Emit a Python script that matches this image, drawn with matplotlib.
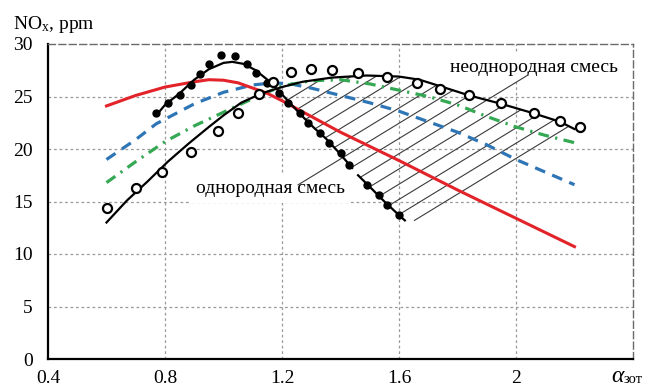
import numpy as np
import matplotlib
matplotlib.use("Agg")
import matplotlib.pyplot as plt

plt.rcParams['font.family'] = ['Liberation Serif', 'DejaVu Serif']
plt.rcParams['mathtext.default'] = 'regular'
plt.rcParams['font.size'] = 14

# ---------------- data ----------------
x_ticks = [0.4, 0.8, 1.2, 1.6, 2.0, 2.4]
x_tick_labels = ['0.4', '0.8', '1.2', '1.6', '2', '']
y_ticks = [0, 5, 10, 15, 20, 25, 30]

red_x = [0.6, 0.7, 0.8, 0.9, 0.95, 1.0, 1.05, 1.1, 1.15, 1.2, 1.3, 1.4, 1.6, 1.8, 2.0, 2.2]
red_y = [24.1, 25.1, 25.9, 26.4, 26.6, 26.55, 26.3, 25.8, 25.3, 24.6, 23.1, 21.6, 18.9, 16.1, 13.4, 10.7]

blue_x = [0.6, 0.7, 0.77, 0.9, 1.0, 1.1, 1.17, 1.23, 1.3, 1.4, 1.5, 1.6, 1.7, 1.8, 1.9, 2.0, 2.1, 2.2]
blue_y = [19.0, 20.9, 22.4, 24.3, 25.4, 26.1, 26.3, 26.2, 25.8, 25.1, 24.4, 23.6, 22.6, 21.6, 20.4, 19.0, 17.8, 16.6]

green_x = [0.6, 0.7, 0.8, 0.9, 1.0, 1.1, 1.2, 1.3, 1.4, 1.5, 1.6, 1.7, 1.8, 1.9, 2.0, 2.1, 2.2]
green_y = [16.8, 18.8, 20.7, 22.2, 23.5, 24.8, 26.0, 26.5, 26.6, 26.2, 25.6, 25.0, 24.2, 23.1, 22.1, 21.3, 20.6]

# homogeneous mixture fit curve (break in the line after index homo_gap)
homo_x = [0.77, 0.80, 0.85, 0.90, 0.95, 1.00, 1.03, 1.07, 1.11, 1.15, 1.19, 1.23, 1.27, 1.31,
          1.35, 1.39, 1.44, 1.46, 1.50, 1.55, 1.60, 1.62]
homo_y = [23.2, 24.2, 25.3, 26.6, 27.6, 28.2, 28.3, 28.1, 27.5, 26.6, 25.5, 24.3, 23.1, 22.0,
          21.0, 19.8, 18.2, 17.5, 16.4, 15.0, 13.7, 13.2]
homo_gap = 17

homo_pts_x = [0.77, 0.81, 0.85, 0.89, 0.92, 0.95, 0.99, 1.04, 1.08, 1.11, 1.15, 1.19, 1.22, 1.26,
              1.29, 1.33, 1.36, 1.40, 1.43, 1.49, 1.53, 1.56, 1.60]
homo_pts_y = [23.4, 24.4, 25.1, 26.1, 27.1, 28.1, 29.0, 28.9, 28.1, 27.2, 26.3, 25.3, 24.4, 23.4,
              22.5, 21.5, 20.6, 19.6, 18.5, 16.6, 15.6, 14.7, 13.7]

# heterogeneous mixture fit curve
het_x = [0.60, 0.67, 0.74, 0.81, 0.88, 0.95, 1.00, 1.06, 1.13, 1.20, 1.27, 1.37, 1.49, 1.60,
         1.67, 1.75, 1.84, 1.95, 2.06, 2.15, 2.20]
het_y = [13.0, 15.1, 16.9, 18.8, 20.5, 22.1, 23.2, 24.4, 25.3, 25.9, 26.4, 26.8, 27.0, 26.9,
         26.6, 25.9, 25.1, 24.3, 23.4, 22.6, 21.9]

het_pts_x = [0.60, 0.70, 0.79, 0.89, 0.98, 1.05, 1.12, 1.17, 1.23, 1.30, 1.37, 1.46, 1.56, 1.66,
             1.74, 1.84, 1.95, 2.06, 2.15, 2.22]
het_pts_y = [14.4, 16.3, 17.8, 19.7, 21.7, 23.4, 25.2, 26.4, 27.3, 27.6, 27.5, 27.2, 26.9, 26.3,
             25.7, 25.1, 24.4, 23.4, 22.7, 22.1]

# hatching between the two curves: value of each hatch line at x = 2.0
hatch_slope = 17.0
hatch_c = [19.1, 20.55, 22.0, 23.45, 24.9, 26.35, 27.8, 29.25, 30.7, 32.15, 33.6, 35.05, 36.5, 37.95]
hatch_floor = 13.2
leader_top_idx, leader_top_x = 5, 2.04      # leader to "неоднородная смесь"
leader_low_idx, leader_low_x = 7, 1.255     # leader to "однородная смесь"

label_homo = 'однородная смесь'
label_het = 'неоднородная смесь'

# ---------------- figure ----------------
fig = plt.figure(figsize=(6.48, 3.87), dpi=100)
ax = fig.add_axes([48/648, 28/387, 585/648, 315/387])
ax.set_xlim(x_ticks[0], x_ticks[-1])
ax.set_ylim(y_ticks[0], y_ticks[-1])
ax.set_xticks(x_ticks)
ax.set_xticklabels(x_tick_labels)
ax.set_yticks(y_ticks)
ax.tick_params(axis='x', length=0, pad=8, labelsize=14)
ax.tick_params(axis='y', length=0, pad=11, labelsize=14)

grid_kw = dict(color='#9a9a9a', lw=0.9, ls=(0, (2.2, 2.2)), zorder=1)
for xv in x_ticks[1:-1]:
    ax.axvline(xv, **grid_kw)
for yv in y_ticks[1:-1]:
    ax.axhline(yv, **grid_kw)

for s in ['top', 'right']:
    ax.spines[s].set_linestyle((0, (5, 2.5)))
    ax.spines[s].set_color('#6a6a6a')
    ax.spines[s].set_linewidth(1.0)
for s in ['left', 'bottom']:
    ax.spines[s].set_color('black')
    ax.spines[s].set_linewidth(1.6)

# hatching
hx = np.asarray(homo_x)
hy = np.asarray(homo_y)
xs = np.linspace(1.19, 2.2, 4000)
lower = np.where(xs <= hx[-1], np.interp(xs, hx, hy), hatch_floor)
upper = np.interp(xs, het_x, het_y)
for i, c in enumerate(hatch_c):
    yl = c + hatch_slope * (xs - 2.0)
    m = (yl >= lower) & (yl <= upper)
    if not m.any():
        continue
    x0, x1 = xs[m].min(), xs[m].max()
    if i == leader_top_idx:
        x1 = leader_top_x
    if i == leader_low_idx:
        x0 = leader_low_x
    ax.plot([x0, x1], [c + hatch_slope * (x0 - 2.0), c + hatch_slope * (x1 - 2.0)],
            color='#3a3a3a', lw=0.8, zorder=4)

ax.plot(blue_x, blue_y, color='#2E75B6', lw=2.3, ls=(0, (3.4, 2.4)), zorder=5)
ax.plot(green_x, green_y, color='#34A853', lw=2.3, ls=(0, (3.4, 2.0, 0.7, 2.0)), zorder=5)
ax.plot(red_x, red_y, color='#E3232A', lw=2.2, zorder=6)

ax.plot(homo_x[:homo_gap], homo_y[:homo_gap], color='black', lw=1.6, zorder=7)
ax.plot(homo_x[homo_gap:], homo_y[homo_gap:], color='black', lw=1.6, zorder=7)
ax.plot(het_x, het_y, color='black', lw=1.6, zorder=7)

ax.plot(homo_pts_x, homo_pts_y, 'o', color='black', ms=5, zorder=8)
ax.plot(het_pts_x, het_pts_y, 'o', mfc='white', mec='black', mew=1.6, ms=6.5, zorder=8)

box = dict(facecolor='white', edgecolor='none', pad=4.5)
ax.text(1.159, 15.8, label_homo, ha='center', va='baseline', fontsize=14, bbox=box, zorder=3)
ax.text(2.063, 27.33, label_het, ha='center', va='baseline', fontsize=14, bbox=box, zorder=3)

fig.text(13/648, 1 - 29/387, r'NO$_{x}$, ppm', fontsize=14, va='baseline', ha='left')
fig.text(611/648, 1 - 382/387, 'α', fontsize=17, style='italic', va='baseline', ha='left')
fig.text(624/648, 1 - 383/387, 'зот', fontsize=10.5, va='baseline', ha='left')

fig.savefig('out.png', dpi=100)
